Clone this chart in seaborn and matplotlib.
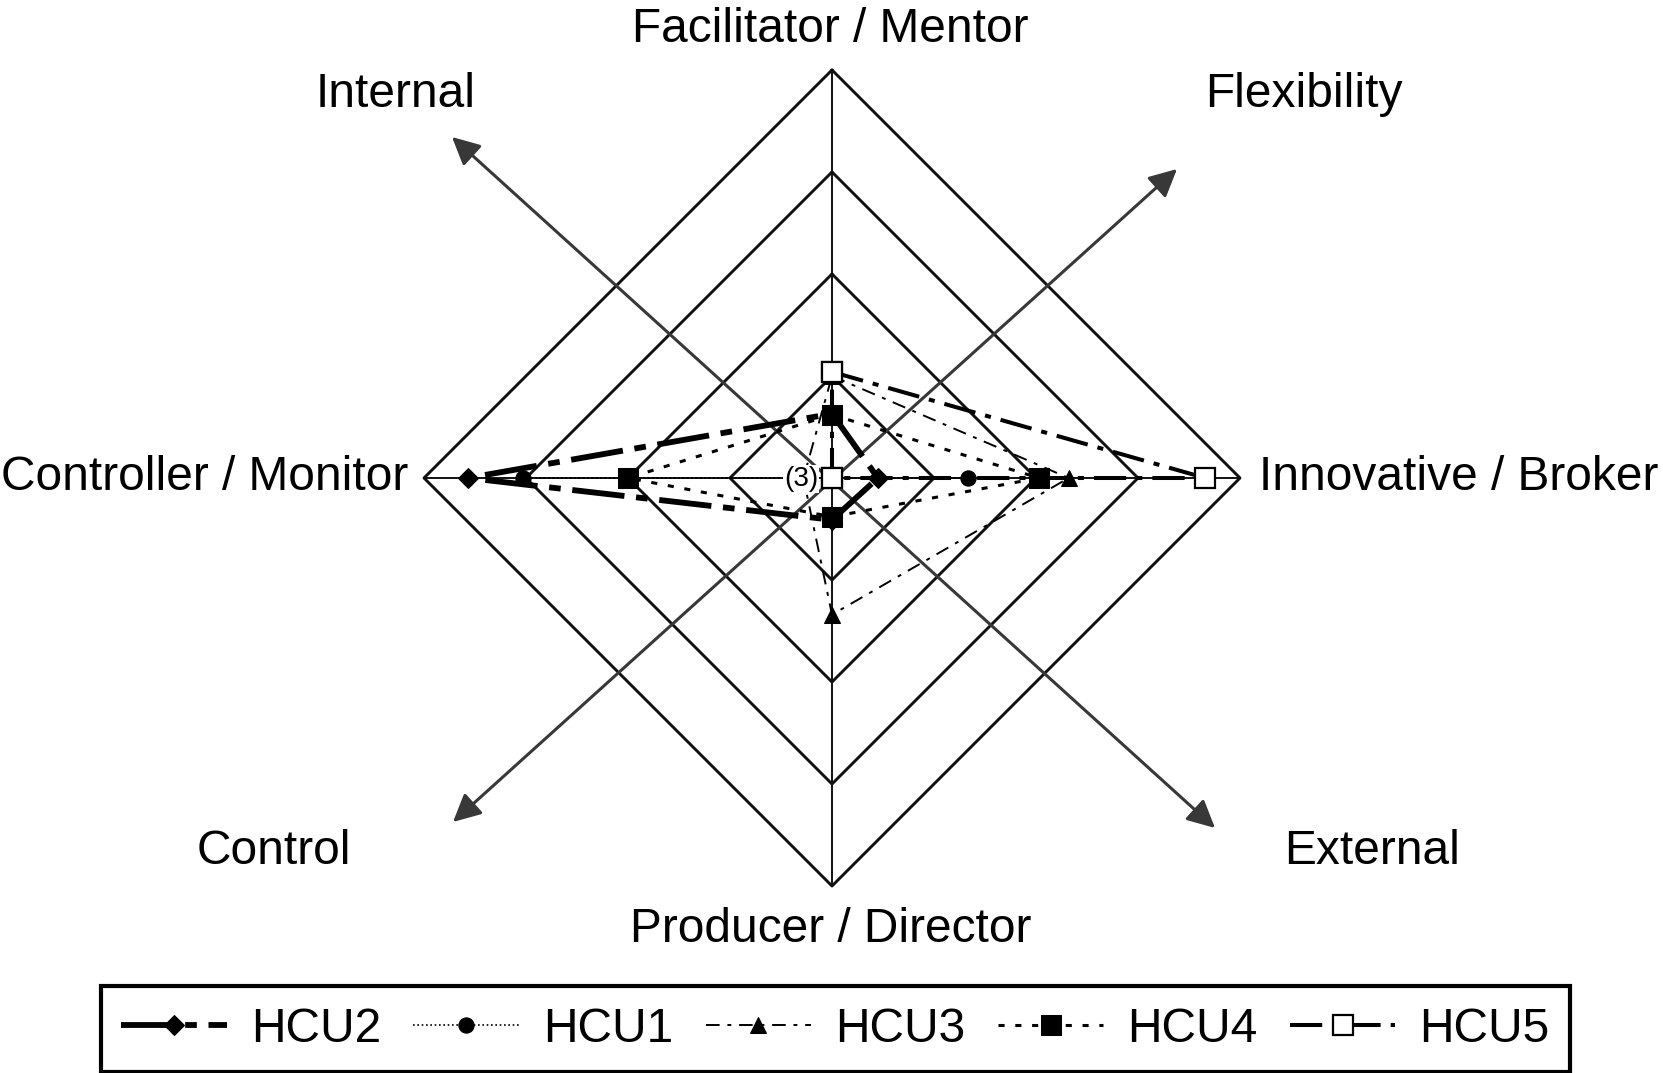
import numpy as np
import pandas as pd
import matplotlib
matplotlib.use("Agg")
import matplotlib.pyplot as plt
import seaborn as sns

# ---------------- data ----------------
axis_labels = ["Facilitator / Mentor", "Innovative / Broker", "Producer / Director", "Controller / Monitor"]
axis_angles = [90, 0, 270, 180]          # direction of each role axis
quadrant_labels = ["Internal", "Flexibility", "Control", "External"]
series_names = ["HCU2", "HCU1", "HCU3", "HCU4", "HCU5"]
# values on: Facilitator (top), Innovative (right), Producer (bottom), Controller (left)
hcu2 = [0.63, 0.45, 0.41, 3.57]
hcu1 = [0.00, 1.33, 0.00, 3.03]
hcu3 = [1.00, 2.32, 1.34, 0.28]
hcu4 = [0.62, 2.03, 0.38, 2.00]
hcu5 = [1.04, 3.66, 0.00, 0.00]
ring_levels = [1, 2, 3, 4]
series_values = {"HCU2": hcu2, "HCU1": hcu1, "HCU3": hcu3, "HCU4": hcu4, "HCU5": hcu5}

# ---------------- styles ----------------
styles = {
    "HCU2": dict(lw=4.2, linestyle=(0, (9, 2, 2, 2)), marker="D", ms=10, mfc="black", mec="black"),
    "HCU1": dict(lw=1.2, linestyle=(0, (1, 1.6)), marker="o", ms=11, mfc="black", mec="black"),
    "HCU3": dict(lw=1.4, linestyle=(0, (7, 4, 2, 4)), marker="^", ms=12, mfc="black", mec="black"),
    "HCU4": dict(lw=2.2, linestyle=(0, (2, 3.5)), marker="s", ms=15, mfc="black", mec="black"),
    "HCU5": dict(lw=2.9, linestyle=(0, (8, 2.5, 1.5, 2.5)), marker="s", ms=15, mfc="white", mec="black", mew=1.6),
}

sns.set_theme(style="white")
plt.rcParams["font.family"] = ["Liberation Sans", "DejaVu Sans"]
plt.rcParams["text.color"] = "black"

W, H, DPI = 1663, 1073, 100
CX, CY, UNIT = 832, 478, 102.0   # centre pixel and pixels per ring

fig = plt.figure(figsize=(W / DPI, H / DPI), dpi=DPI)
ax = fig.add_axes([0, 0, 1, 1])
ax.set_xlim(-CX / UNIT, (W - CX) / UNIT)
ax.set_ylim(-(H - CY) / UNIT, CY / UNIT)
ax.axis("off")


def px(x, y):
    return (x - CX) / UNIT, (CY - y) / UNIT


ang = np.deg2rad(axis_angles + [axis_angles[0]])

# grid diamonds
for r in ring_levels:
    ax.plot(r * np.cos(ang), r * np.sin(ang), color="#111111", lw=2.1, zorder=1)
R = max(ring_levels)
ax.plot([-R, R], [0, 0], color="#111111", lw=1.4, zorder=1)
ax.plot([0, 0], [-R, R], color="#111111", lw=1.4, zorder=1)

# diagonal arrows
arrow_kw = dict(arrowstyle="<|-|>", color="#383838", lw=2.2, mutation_scale=42,
                shrinkA=0, shrinkB=0)
ax.annotate("", xy=px(452, 137), xytext=px(1215, 828), arrowprops=arrow_kw, zorder=2)
ax.annotate("", xy=px(1177, 169), xytext=px(453, 822), arrowprops=arrow_kw, zorder=2)

# series polygons
rows = []
for name in series_names:
    vals = series_values[name]
    vals_c = vals + [vals[0]]
    for i, (v, a) in enumerate(zip(vals_c, ang)):
        rows.append(dict(series=name, order=i, x=v * np.cos(a), y=v * np.sin(a)))
df = pd.DataFrame(rows)

for name in series_names:
    sub = df[df.series == name]
    st = dict(styles[name])
    sns.lineplot(data=sub, x="x", y="y", sort=False, estimator=None, ax=ax,
                 color="black", label=name, zorder=3, **st)

# small annotation near the centre
ax.text(*px(801, 479), "(3)", fontsize=20, ha="center", va="center", zorder=5,
        color="black", bbox=dict(boxstyle="square,pad=0.02", fc="white", ec="none"))

# axis and quadrant labels
FS = 34.5
ax.text(*px(830, 42), axis_labels[0], fontsize=FS, ha="center", va="baseline")
ax.text(*px(1459, 490), axis_labels[1], fontsize=FS, ha="center", va="baseline")
ax.text(*px(831, 942), axis_labels[2], fontsize=FS, ha="center", va="baseline")
ax.text(*px(205, 490), axis_labels[3], fontsize=FS, ha="center", va="baseline")
ax.text(*px(396, 107), quadrant_labels[0], fontsize=FS, ha="center", va="baseline")
ax.text(*px(1304, 107), quadrant_labels[1], fontsize=FS, ha="center", va="baseline")
ax.text(*px(274, 864), quadrant_labels[2], fontsize=FS, ha="center", va="baseline")
ax.text(*px(1372, 864), quadrant_labels[3], fontsize=FS, ha="center", va="baseline")

# legend
handles, labels = ax.get_legend_handles_labels()
leg = ax.legend(handles, labels, loc="center", ncol=5,
                bbox_to_anchor=(835.5 / W, 1 - 1029 / H), bbox_transform=fig.transFigure,
                fontsize=FS, frameon=True, fancybox=False, framealpha=1,
                edgecolor="black", handlelength=2.2, handletextpad=0.5,
                columnspacing=0.68, borderpad=0.42, borderaxespad=0)
leg.get_frame().set_linewidth(3)
for t in leg.get_texts():
    t.set_color("black")

fig.savefig("out.png", dpi=DPI)
